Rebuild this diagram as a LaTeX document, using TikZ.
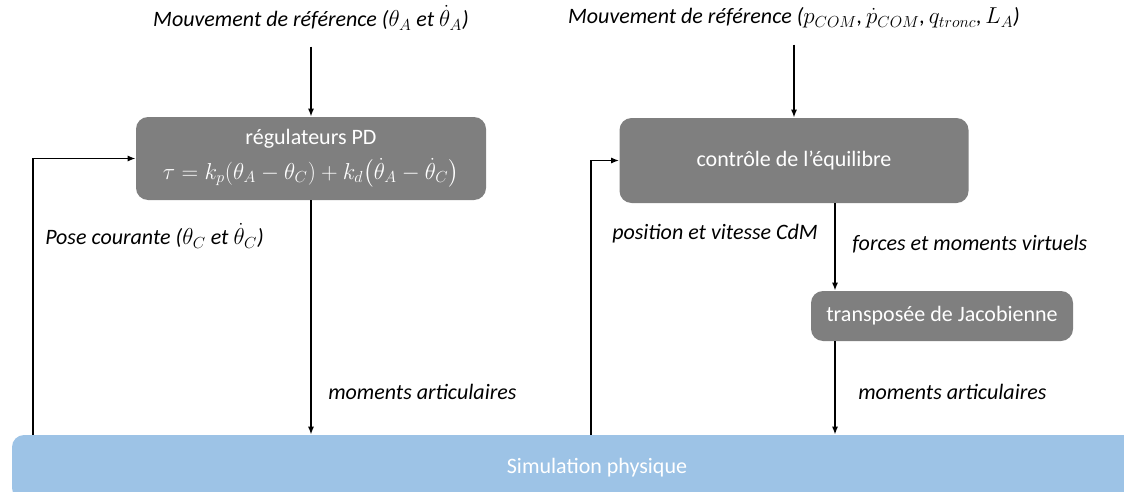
\documentclass[tikz,border=0pt]{standalone}
\usepackage{amsmath}
\usepackage{fontspec}
\setmainfont{Carlito}
\usetikzlibrary{arrows.meta}
\definecolor{boxgray}{RGB}{127,127,127}
\definecolor{simblue}{RGB}{157,195,230}

\begin{document}
\begin{tikzpicture}[x=0.75pt, y=-0.75pt,
  every node/.style={font=\fontsize{16.5}{20}\selectfont},
  bloc/.style={fill=boxgray, rounded corners=9pt, text=white, align=center, inner sep=0pt},
  lbl/.style={font=\fontsize{16.5}{20}\selectfont\itshape, anchor=west, inner sep=0pt},
  fl/.style={-{Latex[length=6pt, width=4.5pt]}, line width=1.2pt}]
  \useasboundingbox (0,0) rectangle (1124,492);
  % simulation bar
  \begin{scope}
    \clip (0,0) rectangle (1124,492);
    \node[fill=simblue, rounded corners=9pt, text=white, minimum width=877.5pt, minimum height=48.75pt, inner sep=0pt] (sim) at (597,467.5) {Simulation physique};
  \end{scope}
  % left loop
  \node[lbl, anchor=center] (refA) at (311,18) {Mouvement de référence ($\theta_A$ et $\dot{\theta}_A$)};
  \node[bloc, minimum width=262.5pt, minimum height=62.25pt] (pd) at (311,158.5)
    {régulateurs PD\\[6pt] $\tau = k_p(\theta_A - \theta_C) + k_d\bigl(\dot{\theta}_A - \dot{\theta}_C\bigr)$};
  \coordinate (fbA) at (33,300);
  \draw[fl, shorten <=12pt] (refA) -- (pd);
  \draw[fl] (pd.south) -- (pd.south |- sim.north);
  \draw[fl] (sim.north -| fbA) |- (pd.west);
  \node[lbl] (pose) at (45,236) {Pose courante ($\theta_C$ et $\dot{\theta}_C$)};
  \node[lbl] (momA) at (328,392) {moments articulaires};
  % right loop
  \node[lbl, anchor=center] (refB) at (794,18) {Mouvement de référence ($p_{COM}$,\,$\dot{p}_{COM}$,\,$q_{tronc}$,\,$L_A$)};
  \node[bloc, minimum width=261.75pt, minimum height=63.75pt] (eq) at (794,160.5) {contrôle de l’équilibre};
  \node[bloc, minimum width=196.5pt, minimum height=37.5pt] (jac) at (942,316) {transposée de Jacobienne};
  \coordinate (fbB) at (591,300);
  \coordinate (jx) at (835,250);
  \draw[fl, shorten <=12pt] (refB) -- (eq);
  \draw[fl] (sim.north -| fbB) |- (eq.west);
  \draw[fl] (eq.south -| jx) -- (jac.north -| jx);
  \draw[fl] (jac.south -| jx) -- (jx |- sim.north);
  \node[lbl] (pos) at (612,234) {position et vitesse CdM};
  \node[lbl] (forc) at (852,244) {forces et moments virtuels};
  \node[lbl] (momB) at (858,392) {moments articulaires};
\end{tikzpicture}
\end{document}
